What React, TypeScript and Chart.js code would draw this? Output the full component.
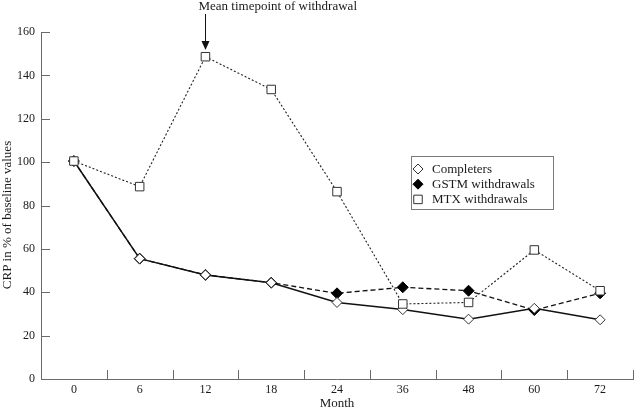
import React, { useEffect, useRef } from 'react';
import { Chart, registerables } from 'chart.js';

Chart.register(...registerables);

const months = ['0', '6', '12', '18', '24', '36', '48', '60', '72'];
const completers = [100.5, 55.5, 48, 44.4, 35.3, 32, 27.6, 32.6, 27.3];
const gstmWithdrawals = [100.5, 55.5, 48, 44.4, 39.5, 42.3, 40.7, 31.8, 39.5];
const mtxWithdrawals = [100.5, 88.7, 148.6, 133.5, 86.4, 34.6, 35.3, 59.5, 40.7];
const seriesLabels = ['Completers', 'GSTM withdrawals', 'MTX withdrawals'];
const yMin = 0;
const yMax = 160;
const yStep = 20;
const annotationText = 'Mean timepoint of withdrawal';
const annotationMonth = '12';
const xTitle = 'Month';
const yTitle = 'CRP in % of baseline values';

const FONT = "'Liberation Serif', 'Times New Roman', serif";
const AXIS = '#6a6a6a';
const TEXT = '#1a1a1a';

type Marker = 'openDiamond' | 'filledDiamond' | 'openSquare';

function drawMarker(ctx: CanvasRenderingContext2D, kind: Marker, x: number, y: number, r: number) {
  ctx.save();
  ctx.beginPath();
  if (kind === 'openSquare') {
    const h = r * Math.SQRT1_2;
    ctx.rect(x - h, y - h, 2 * h, 2 * h);
  } else {
    ctx.moveTo(x, y - r);
    ctx.lineTo(x + r, y);
    ctx.lineTo(x, y + r);
    ctx.lineTo(x - r, y);
    ctx.closePath();
  }
  ctx.fillStyle = kind === 'filledDiamond' ? '#000' : '#fff';
  ctx.fill();
  ctx.strokeStyle = kind === 'filledDiamond' ? '#000' : '#333';
  ctx.lineWidth = 1;
  ctx.stroke();
  ctx.restore();
}

const tickMarksPlugin = {
  id: 'tickMarks',
  afterDatasetsDraw(chart: any) {
    const { ctx, chartArea, scales } = chart;
    const x = scales.x;
    const y = scales.y;
    ctx.save();
    ctx.strokeStyle = AXIS;
    ctx.lineWidth = 1;
    y.ticks.forEach((_t: any, i: number) => {
      const py = Math.round(y.getPixelForTick(i)) + 0.5;
      if (Math.abs(py - chartArea.bottom) < 2) return;
      ctx.beginPath();
      ctx.moveTo(chartArea.left, py);
      ctx.lineTo(chartArea.left + 9, py);
      ctx.stroke();
    });
    for (let i = 1; i <= months.length; i++) {
      const px = Math.round(x.getPixelForValue(i - 0.5)) + 0.5;
      ctx.beginPath();
      ctx.moveTo(px, chartArea.bottom);
      ctx.lineTo(px, chartArea.bottom - 9);
      ctx.stroke();
    }
    ctx.restore();
  },
};

const annotationPlugin = {
  id: 'annotationArrow',
  afterDraw(chart: any) {
    const { ctx, scales } = chart;
    const idx = months.indexOf(annotationMonth);
    const px = Math.round(scales.x.getPixelForValue(idx)) + 0.5;
    ctx.save();
    ctx.fillStyle = TEXT;
    ctx.font = `13px ${FONT}`;
    ctx.textAlign = 'left';
    ctx.textBaseline = 'top';
    ctx.fillText(annotationText, px - 7, 0);
    ctx.strokeStyle = '#111';
    ctx.lineWidth = 1;
    ctx.beginPath();
    ctx.moveTo(px, 14);
    ctx.lineTo(px, 42);
    ctx.stroke();
    ctx.beginPath();
    ctx.moveTo(px - 4, 41);
    ctx.lineTo(px + 4, 41);
    ctx.lineTo(px, 50);
    ctx.closePath();
    ctx.fillStyle = '#111';
    ctx.fill();
    // y-axis title
    ctx.translate(8, 215);
    ctx.rotate(-Math.PI / 2);
    ctx.textAlign = 'center';
    ctx.textBaseline = 'middle';
    ctx.fillStyle = TEXT;
    ctx.fillText(yTitle, 0, 0);
    ctx.restore();
  },
};

const legendPlugin = {
  id: 'boxLegend',
  afterDraw(chart: any) {
    const { ctx } = chart;
    const left = 411.5;
    const top = 156.5;
    const w = 142;
    const h = 53;
    ctx.save();
    ctx.strokeStyle = '#7a7a7a';
    ctx.lineWidth = 1;
    ctx.strokeRect(left, top, w, h);
    const markers: Marker[] = ['openDiamond', 'filledDiamond', 'openSquare'];
    ctx.font = `13px ${FONT}`;
    ctx.fillStyle = TEXT;
    ctx.textAlign = 'left';
    ctx.textBaseline = 'middle';
    seriesLabels.forEach((label, i) => {
      const cy = 169 + i * 15.2;
      drawMarker(ctx, markers[i], 418, cy, markers[i] === 'openSquare' ? 6 : 5);
      ctx.fillStyle = TEXT;
      ctx.fillText(label, 432, cy + 0.5);
    });
    ctx.restore();
  },
};

export default function App() {
  const ref = useRef<HTMLCanvasElement>(null);
  useEffect(() => {
    const prev = document.body.style.margin;
    document.body.style.margin = '0';
    const canvas = ref.current;
    if (!canvas) return;
    const chart = new Chart(canvas, {
      type: 'line',
      data: {
        labels: months,
        datasets: [
          {
            label: seriesLabels[0],
            data: completers,
            borderColor: '#111',
            borderWidth: 1.5,
            pointStyle: 'rectRot',
            pointRadius: 5,
            pointBackgroundColor: '#fff',
            pointBorderColor: '#333',
            pointBorderWidth: 1,
            tension: 0,
            order: 2,
          },
          {
            label: seriesLabels[1],
            data: gstmWithdrawals,
            borderColor: '#111',
            borderWidth: 1.3,
            borderDash: [5, 3],
            pointStyle: 'rectRot',
            pointRadius: 5.5,
            pointBackgroundColor: '#000',
            pointBorderColor: '#000',
            pointBorderWidth: 1,
            tension: 0,
            order: 3,
          },
          {
            label: seriesLabels[2],
            data: mtxWithdrawals,
            borderColor: '#222',
            borderWidth: 1.1,
            borderDash: [2, 2],
            pointStyle: 'rect',
            pointRadius: 6,
            pointBackgroundColor: '#fff',
            pointBorderColor: '#333',
            pointBorderWidth: 1,
            tension: 0,
            order: 1,
          },
        ],
      },
      options: {
        responsive: true,
        maintainAspectRatio: false,
        animation: false,
        events: [],
        layout: { padding: { top: 32, right: 3, left: 0, bottom: 0 } },
        plugins: {
          legend: { display: false },
          tooltip: { enabled: false },
        },
        scales: {
          x: {
            type: 'category',
            offset: true,
            grid: { display: false, drawTicks: false },
            border: { display: true, color: AXIS, width: 1 },
            ticks: {
              color: TEXT,
              font: { family: FONT, size: 12 },
              padding: 4,
              maxRotation: 0,
              autoSkip: false,
            },
            title: {
              display: true,
              text: xTitle,
              color: TEXT,
              font: { family: FONT, size: 13 },
              padding: { top: 0, bottom: 0 },
            },
            afterFit(scale: any) {
              scale.height = 32;
            },
          },
          y: {
            min: yMin,
            max: yMax,
            grid: { display: false, drawTicks: false },
            border: { display: true, color: AXIS, width: 1 },
            ticks: {
              stepSize: yStep,
              color: TEXT,
              font: { family: FONT, size: 12 },
              padding: 6,
            },
            title: { display: false },
            afterFit(scale: any) {
              scale.width = 41;
            },
          },
        },
      },
      plugins: [tickMarksPlugin, annotationPlugin, legendPlugin],
    });
    return () => {
      chart.destroy();
      document.body.style.margin = prev;
    };
  }, []);
  return (
    <div style={{ position: 'absolute', left: 0, top: 0, width: 640, height: 411, background: '#fff' }}>
      <canvas ref={ref} />
    </div>
  );
}
